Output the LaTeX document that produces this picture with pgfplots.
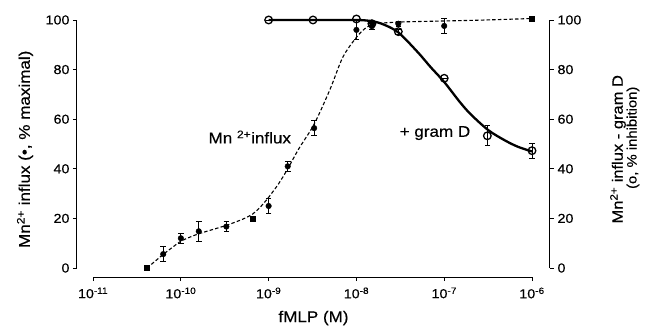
\documentclass[border=0pt]{standalone}
\usepackage{fontspec}
\setmainfont{Liberation Sans}[FakeStretch=1.1, FakeBold=0.4]
\usepackage{pgfplots}
\pgfplotsset{compat=1.18}
\begin{document}
\begin{tikzpicture}
\begin{axis}[name=ax,
  scale only axis, width=473pt, height=259.5pt,
  xmode=log, xmin=6.56e-12, xmax=1.603e-6, ymin=-3.63, ymax=101,
  axis line style={draw=none},
  xminorticks=false, yminorticks=false,
  tick style={black, line width=0.9pt},
  major tick length=4pt,
  tick align=outside,
  yticklabel style={/pgf/number format/assume math mode=true},
  tick label style={font=\fontsize{13}{15}\selectfont},
  clip=false,
  xtick={1e-11,1e-10,1e-9,1e-8,1e-7,1e-6},
  xticklabels={10\textsuperscript{-11},10\textsuperscript{-10},10\textsuperscript{-9},10\textsuperscript{-8},10\textsuperscript{-7},10\textsuperscript{-6}},
  xtick pos=bottom, ytick pos=left, ytick={0,20,...,100},
  xticklabel style={yshift=-3pt},
]
\draw[line width=1pt] (axis cs:1e-11,-3.63) -- (axis cs:1e-6,-3.63);
\draw[line width=1pt] (axis cs:6.56e-12,0) -- (axis cs:6.56e-12,100);
\draw[line width=1pt] (axis cs:1.603e-6,0) -- (axis cs:1.603e-6,100);
% dashed fit
\addplot[black, line width=1.1pt, dash pattern=on 3.5pt off 2.2pt, smooth] coordinates {
(4.1e-11,0) (5e-11,2.5) (6.3e-11,5.5) (8e-11,8.3) (1e-10,10.8) (1.3e-10,12.6)
(1.6e-10,13.8) (2.2e-10,15.3) (3.3e-10,17.2) (5e-10,19.6) (6.6e-10,21.8)
(8e-10,24.5) (1e-9,28.5) (1.3e-9,34) (1.65e-9,40) (2.2e-9,48) (3.3e-9,58)
(5e-9,72) (7e-9,85) (1e-8,93) (1.3e-8,97) (1.7e-8,98.5) (2.5e-8,99)
(4e-8,99.3) (1e-7,99.6) (3e-7,100) (1e-6,100.6)};
% solid fit
\addplot[black, line width=2.3pt, smooth] coordinates {
(1e-9,100) (3e-9,100) (1e-8,100) (1.5e-8,99.5) (2e-8,98.3) (3e-8,95)
(5e-8,87) (7e-8,81) (1e-7,75) (1.5e-7,67) (2e-7,62) (3.2e-7,55.5)
(5e-7,51.3) (7e-7,48.8) (1e-6,47)};
% filled circles
\addplot[black, only marks, mark=*, mark size=2.8pt,
  error bars/.cd, y dir=both, y explicit,
  error bar style={line width=0.9pt},
  error mark options={rotate=90, mark size=2.8pt, line width=0.9pt}]
 table[x=x, y=y, y error=e] {
x y e
6.3e-11 5.6 3
1e-10 12 2
1.6e-10 14.8 4
3.3e-10 16.7 2
1e-9 25 3
1.65e-9 41 2
3.3e-9 56.4 3
1e-8 96 4
1.5e-8 97.5 1.5
3e-8 98.5 1
1e-7 97.6 3
};
% filled squares
\addplot[black, only marks, mark=square*, mark size=2.6pt] coordinates {
(4.1e-11,0) (6.6e-10,19.8) (1e-6,100.5)};
% open circles
\addplot[black, only marks, mark=o, mark size=3.8pt, mark options={fill=white, line width=1.3pt},
  error bars/.cd, y dir=both, y explicit,
  error bar style={line width=0.9pt},
  error mark options={rotate=90, mark size=2.8pt, line width=0.9pt}]
 table[x=x, y=y, y error=e] {
x y e
1e-9 100 0
3.2e-9 100 0
1e-8 100.4 0
1.5e-8 98.5 0
3e-8 95.3 1
1e-7 76.5 0
3.1e-7 53.3 4
1e-6 47.3 3
};
\node[font=\fontsize{15.5}{18}\selectfont] at (axis cs:6.1e-10,52.8) {Mn \textsuperscript{2+}influx};
\node[font=\fontsize{15.5}{18}\selectfont] at (axis cs:7.85e-8,54.4) {+ gram D};
\end{axis}
\begin{axis}[
  scale only axis, width=473pt, height=259.5pt,
  xmode=log, xmin=6.56e-12, xmax=1.603e-6, ymin=-3.63, ymax=101,
  axis line style={draw=none},
  xminorticks=false, yminorticks=false,
  tick style={black, line width=0.9pt},
  major tick length=4pt,
  tick align=outside,
  yticklabel style={/pgf/number format/assume math mode=true},
  tick label style={font=\fontsize{13}{15}\selectfont},
  xtick=\empty, ytick={0,20,...,100},
  ytick pos=right, yticklabel pos=right,
]
\end{axis}
\node[rotate=90, font=\fontsize{15.5}{18}\selectfont] at ([xshift=-52pt, yshift=-2pt]ax.west) {Mn\textsuperscript{2+} influx (\textbullet, \% maximal)};
\node[rotate=90, font=\fontsize{15}{18}\selectfont] at ([xshift=68pt, yshift=-2pt]ax.east) {Mn\textsuperscript{2+} influx - gram D};
\node[rotate=90, font=\fontsize{13.5}{16}\selectfont] at ([xshift=83pt, yshift=9.5pt]ax.east) {(o, \% inhibition)};
\node[font=\fontsize{15.5}{18}\selectfont] at ([yshift=-41pt]ax.south) {fMLP (M)};
\path ([shift={(-77pt,-50pt)}]ax.south west) rectangle ([shift={(97pt,17.5pt)}]ax.north east);
\end{tikzpicture}
\end{document}
